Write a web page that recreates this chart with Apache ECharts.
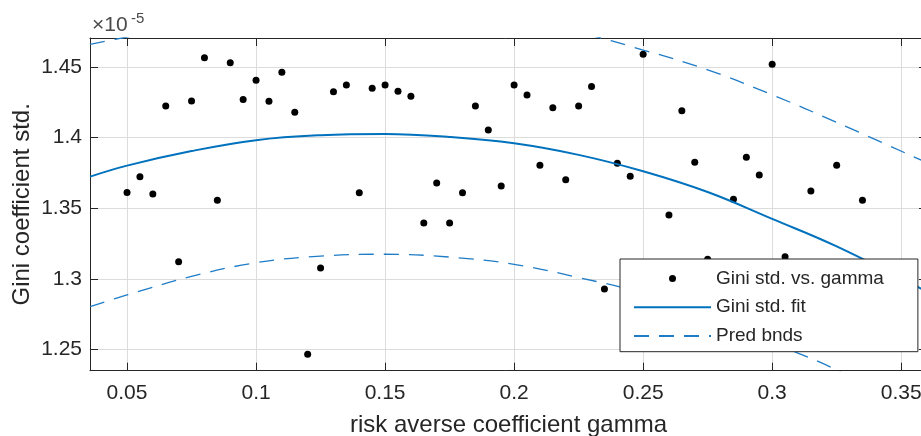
<!DOCTYPE html>
<html><head><meta charset="utf-8">
<script src="https://cdn.jsdelivr.net/npm/echarts@6.0.0/dist/echarts.min.js"></script>
<style>html,body{margin:0;padding:0;background:#fff}#c{width:921px;height:436px}</style>
</head><body><div id="c"></div>
<script>
const gammaPts = [0.05,0.055,0.06,0.065,0.07,0.075,0.08,0.085,0.09,0.095,0.1,0.105,0.11,0.115,0.12,0.125,0.13,0.135,0.14,0.145,0.15,0.155,0.16,0.165,0.17,0.175,0.18,0.185,0.19,0.195,0.2,0.205,0.21,0.215,0.22,0.225,0.23,0.235,0.24,0.245,0.25,0.26,0.265,0.27,0.275,0.285,0.29,0.295,0.3,0.305,0.315,0.325,0.335];
const giniStd = [1.3611,1.3724,1.3601,1.4224,1.3122,1.4259,1.4566,1.3557,1.4530,1.4269,1.4406,1.4257,1.4462,1.4180,1.2467,1.3078,1.4325,1.4373,1.3610,1.4349,1.4373,1.4328,1.4293,1.3396,1.3679,1.3396,1.3610,1.4224,1.4054,1.3658,1.4373,1.4302,1.3805,1.4212,1.3702,1.4224,1.4361,1.2929,1.3819,1.3727,1.4590,1.3453,1.4191,1.3826,1.3139,1.3564,1.3861,1.3736,1.4519,1.3158,1.3622,1.3805,1.3557];
const curveGamma = [0.0357,0.05,0.075,0.1,0.125,0.15,0.175,0.2,0.225,0.25,0.275,0.3,0.325,0.36];
const fitStd   = [1.3724,1.3802,1.3905,1.3982,1.4017,1.4026,1.4005,1.3960,1.3878,1.3762,1.3615,1.3425,1.3230,1.2910];
const upperBnd = [1.4660,1.4712,1.4790,1.4848,1.4872,1.4877,1.4855,1.4814,1.4742,1.4620,1.4480,1.4303,1.4108,1.3822];
const lowerBnd = [1.2804,1.2887,1.3018,1.3115,1.3162,1.3175,1.3155,1.3104,1.3010,1.2900,1.2745,1.2550,1.2355,1.1998];
const xTickStep = 0.05, yTickStep = 0.05;
const legendNames = ['Gini std. vs. gamma','Gini std. fit','Pred bnds'];
const xName = 'risk averse coefficient gamma';
const yName = 'Gini coefficient std.';
const expLabel = ['×10', '-5'];

const FONT = '"Liberation Sans", Arial, Helvetica, sans-serif';
const TXT = '#262626';
const BLUE = '#0072BD';
const DASHBLUE = '#1f7cc6';
const pair = (xs, ys) => xs.map((x, i) => [x, ys[i]]);
function tickFmt(step) {
  return v => {
    const k = Math.round(v / step);
    return Math.abs(v - k * step) < 1e-7 ? String(+(k * step).toFixed(4)) : '';
  };
}
const X_MIN = 0.03565, X_MAX = 0.36, Y_MIN = 1.2351, Y_MAX = 1.4705;
const baseAxis = {
  type: 'value',
  axisLine: { show: true, lineStyle: { color: TXT, width: 1 } },
  axisTick: { show: true, inside: true, length: 8, lineStyle: { color: TXT, width: 1 } },
  splitLine: { show: false },
  nameMoveOverlap: false
};
const chart = echarts.init(document.getElementById('c'), null, { renderer: 'canvas' });
chart.setOption({
  animation: false,
  backgroundColor: '#fff',
  grid: { left: 90, top: 38, right: -6, bottom: 65.3, containLabel: false, outerBoundsMode: 'none' },
  xAxis: [
    Object.assign({}, baseAxis, {
      position: 'bottom', min: X_MIN, max: X_MAX, minInterval: xTickStep, maxInterval: xTickStep,
      name: xName, nameLocation: 'middle', nameGap: 43,
      nameTextStyle: { fontSize: 24, color: TXT, fontFamily: FONT },
      axisLabel: { show: true, margin: 12, fontSize: 21, color: TXT, fontFamily: FONT, formatter: tickFmt(xTickStep), showMinLabel: false, showMaxLabel: false },
      splitLine: { show: true, lineStyle: { color: '#dcdcdc', width: 1 } }
    }),
    Object.assign({}, baseAxis, {
      position: 'top', min: X_MIN, max: X_MAX, minInterval: xTickStep, maxInterval: xTickStep,
      axisLabel: { show: false }
    })
  ],
  yAxis: [
    Object.assign({}, baseAxis, {
      position: 'left', min: Y_MIN, max: Y_MAX, minInterval: yTickStep, maxInterval: yTickStep,
      name: yName, nameLocation: 'middle', nameGap: 56,
      nameTextStyle: { fontSize: 24, color: TXT, fontFamily: FONT },
      axisLabel: { show: true, margin: 8, fontSize: 21, color: TXT, fontFamily: FONT, formatter: tickFmt(yTickStep), showMinLabel: false, showMaxLabel: false },
      splitLine: { show: true, lineStyle: { color: '#dcdcdc', width: 1 } }
    }),
    Object.assign({}, baseAxis, {
      position: 'right', min: Y_MIN, max: Y_MAX, minInterval: yTickStep, maxInterval: yTickStep,
      axisLabel: { show: false }
    })
  ],
  legend: {
    orient: 'vertical', left: 620, top: 259, z: 20,
    data: [
      { name: legendNames[0] },
      { name: legendNames[1], itemStyle: { opacity: 0 } },
      { name: legendNames[2], itemStyle: { opacity: 0 } }
    ],
    itemWidth: 77, itemHeight: 7, itemGap: 8.7,
    selectedMode: false,
    textStyle: { fontSize: 19, color: TXT, fontFamily: FONT, lineHeight: 20 },
    backgroundColor: '#fff', borderColor: TXT, borderWidth: 1, borderRadius: 0,
    padding: [9.5, 34, 5.8, 13]
  },
  graphic: [
    { type: 'text', left: 92, top: 15, style: { text: expLabel[0], fontSize: 21, fill: '#4a4a4a', fontFamily: FONT } },
    { type: 'text', left: 131, top: 11, style: { text: expLabel[1], fontSize: 15, fill: '#4a4a4a', fontFamily: FONT } }
  ],
  series: [
    { name: legendNames[0], type: 'scatter', data: pair(gammaPts, giniStd), symbol: 'circle', symbolSize: 7,
      itemStyle: { color: '#000', opacity: 1 }, z: 2 },
    { name: legendNames[1], type: 'line', data: pair(curveGamma, fitStd), smooth: 0.4, symbol: 'none',
      lineStyle: { color: BLUE, width: 2 }, itemStyle: { color: BLUE }, z: 3 },
    { name: legendNames[2], type: 'line', data: pair(curveGamma, upperBnd), smooth: 0.4, symbol: 'none',
      lineStyle: { color: DASHBLUE, width: 1.3, type: [15, 10] }, itemStyle: { color: DASHBLUE }, z: 3 },
    { name: legendNames[2], type: 'line', data: pair(curveGamma, lowerBnd), smooth: 0.4, symbol: 'none',
      lineStyle: { color: DASHBLUE, width: 1.3, type: [15, 10] }, itemStyle: { color: DASHBLUE }, z: 3 }
  ]
});
</script></body></html>
